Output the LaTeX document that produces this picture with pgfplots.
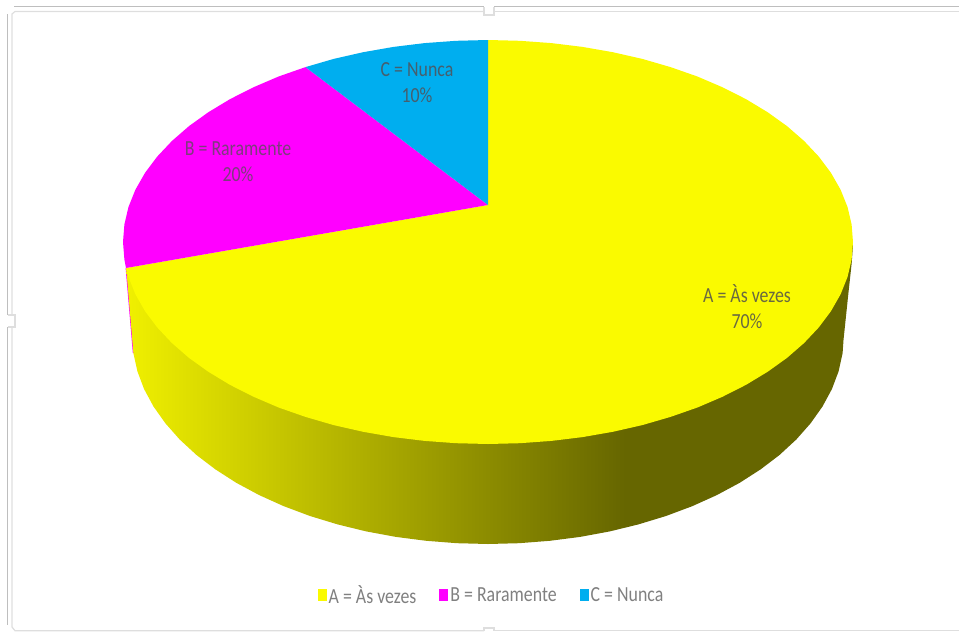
\documentclass[border=0pt]{standalone}
\usepackage{pgfplots}
\pgfplotsset{compat=1.18}
\usepackage{fontspec}
\setmainfont{Carlito}
\newfontfamily\narrow[FakeStretch=0.83]{Carlito}

\definecolor{sliceA}{RGB}{250,250,0}
\definecolor{sliceB}{RGB}{255,0,255}
\definecolor{sliceC}{RGB}{0,174,239}
\definecolor{edgeOuter}{RGB}{190,190,190}
\definecolor{edgeInner}{RGB}{222,222,222}

% Wall of the disc: light on the left, olive from x = 625 to the right edge
\pgfdeclarehorizontalshading{wall}{100bp}{
  rgb(0bp)=(0.941,0.941,0);
  rgb(25bp)=(0.941,0.941,0);
  rgb(59.3bp)=(0.4,0.4,0);
  rgb(100bp)=(0.4,0.4,0)}

\begin{document}
\begin{tikzpicture}
\begin{axis}[
  scale only axis,
  width=959pt, height=635pt,
  xmin=0, xmax=959, ymin=0, ymax=635,
  y dir=reverse,
  axis line style={draw=none},
  ticks=none,
  legend style={
    at={(axis cs:491.5,595)}, anchor=center,
    draw=none, fill=none,
    legend columns=3,
    font=\narrow\fontsize{21.5}{24}\selectfont,
    text=black!50,
    /tikz/every even column/.append style={column sep=21pt},
    /tikz/every odd column/.append style={column sep=0pt},
  },
  legend image code/.code={
    \fill[#1] (0pt,-6pt) rectangle (9pt,6pt);
  },
]

% chart frame
\addplot[forget plot, edgeOuter, line width=1.2pt] coordinates {(14,6.5) (484,6.5)};
\addplot[forget plot, edgeOuter, line width=1.2pt] coordinates {(494,6.5) (959,6.5)};
\addplot[forget plot, edgeInner, line width=1.2pt] coordinates {(484,11.5) (15,11.5) (12,14) (12,315)};
\addplot[forget plot, edgeInner, line width=1.2pt] coordinates {(494,11.5) (959,11.5)};
\addplot[forget plot, edgeInner, line width=1.2pt] coordinates {(484,7) (484,15) (494,15) (494,7)};
\addplot[forget plot, edgeInner, line width=1.2pt] coordinates {(12,327) (12,627) (15,630.7) (484,630.7)};
\addplot[forget plot, edgeInner, line width=1.2pt] coordinates {(494,630.7) (959,630.7)};
\addplot[forget plot, edgeInner, line width=1.2pt] coordinates {(484,631) (484,628) (494,628) (494,631)};
\addplot[forget plot, edgeInner, line width=1.2pt] coordinates {(8,315) (15,315) (15,327) (8,327)};
\addplot[forget plot, edgeOuter, line width=1.2pt] coordinates {(7.5,14) (7.5,315)};
\addplot[forget plot, edgeOuter, line width=1.2pt] coordinates {(7.5,327) (7.5,625)};

% sliver of the magenta wall on the far left
\addplot[forget plot, fill=sliceB, draw=none] coordinates {
  (125.6,268) (132.8,353) (133.8,353) (127,268)} -- cycle;

% wall of the disc, under the top face
\addplot[forget plot, draw=none, shade, shading=wall] coordinates {
  (126.2,268) (133.4,353.2) (137.4,371.3) (144.1,389.1) (153.5,406.5) (165.4,423.3)
  (179.7,439.5) (196.4,454.9) (215.3,469.3) (236.3,482.8) (259.2,495.1) (283.8,506.2)
  (310,516) (337.6,524.4) (366.2,531.4) (395.9,536.9) (426.2,540.8) (457,543.2)
  (488,544) (519,543.2) (549.8,540.8) (580.1,536.9) (609.8,531.4) (638.4,524.4)
  (666,516) (692.2,506.2) (716.8,495.1) (739.7,482.8) (760.7,469.3) (779.6,454.9)
  (796.3,439.5) (810.6,423.3) (822.5,406.5) (831.9,389.1) (838.6,371.3) (842.6,353.2)
  (843.5,340) (848,297) (851.7,263) (853,245) (488,300)} -- cycle;

% top face: A = 70 %
\addplot[fill=sliceA, draw=none] coordinates {
  (488,205) (488,40) (519.8,40.8) (551.4,43.1) (582.5,46.9) (612.8,52.2) (642.3,58.9)
  (670.5,67.1) (697.4,76.5) (722.6,87.3) (746.1,99.2) (767.6,112.2) (787,126.1)
  (804.1,141) (818.8,156.6) (831,172.9) (840.6,189.7) (847.5,206.9) (851.6,224.4)
  (853,242) (851.6,259.6) (847.5,277.1) (840.6,294.3) (831,311.1) (818.8,327.4)
  (804.1,343) (787,357.9) (767.6,371.8) (746.1,384.8) (722.6,396.7) (697.4,407.5)
  (670.5,416.9) (642.3,425.1) (612.8,431.8) (582.5,437.1) (551.4,440.9) (519.8,443.2)
  (488,444) (456.2,443.2) (424.6,440.9) (393.5,437.1) (363.2,431.8) (333.7,425.1)
  (305.5,416.9) (278.6,407.5) (253.4,396.7) (229.9,384.8) (208.4,371.8) (189,357.9)
  (171.9,343) (157.2,327.4) (145,311.1) (135.4,294.3) (128.5,277.1) (126,268)} -- cycle;
\addlegendentry{A = Às vezes}

% top face: B = 20 %
\addplot[fill=sliceB, draw=none] coordinates {
  (488,205) (126,268) (124.4,259.6) (123,242) (124.4,224.4) (128.5,206.9) (135.4,189.7)
  (145,172.9) (157.2,156.6) (171.9,141) (189,126.1) (208.4,112.2) (229.9,99.2)
  (253.4,87.3) (278.6,76.5) (305.5,67.1)} -- cycle;
\addlegendentry{B = Raramente}

% top face: C = 10 %
\addplot[fill=sliceC, draw=none] coordinates {
  (488,205) (305.5,67.1) (333.7,58.9) (363.2,52.2) (393.5,46.9) (424.6,43.1)
  (456.2,40.8) (488,40)} -- cycle;
\addlegendentry{C = Nunca}

% slice labels
\node[font=\narrow\fontsize{21.5}{26}\selectfont, align=center, text={rgb,255:red,105;green,105;blue,65}]
  at (axis cs:747,307) {A = Às vezes\\70\%};
\node[font=\narrow\fontsize{21.5}{26}\selectfont, align=center, text={rgb,255:red,125;green,60;blue,125}]
  at (axis cs:238,162) {B = Raramente\\20\%};
\node[font=\narrow\fontsize{21.5}{26}\selectfont, align=center, text={rgb,255:red,70;green,95;blue,110}]
  at (axis cs:417,83) {C = Nunca\\10\%};
\end{axis}
\end{tikzpicture}
\end{document}
